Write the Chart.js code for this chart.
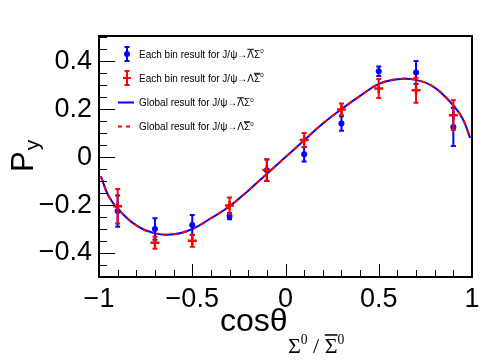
<!DOCTYPE html>
<html>
<head>
<meta charset="utf-8">
<script src="https://cdn.jsdelivr.net/npm/chart.js@4.4.1/dist/chart.umd.min.js"></script>
<style>
html,body{margin:0;padding:0;background:#fff;}
canvas{display:block;}
</style>
</head>
<body>
<canvas id="c" width="498" height="360"></canvas>
<script>
// ---- data ----
const binX = [-0.9, -0.7, -0.5, -0.3, -0.1, 0.1, 0.3, 0.5, 0.7, 0.9];
const lambdaBarY   = [-0.225, -0.300, -0.283, -0.246, -0.055, 0.012, 0.140, 0.358, 0.353, 0.126];
const lambdaBarErr = [0.065, 0.045, 0.042, 0.013, 0.045, 0.030, 0.030, 0.020, 0.048, 0.080];
const sigmaBarY    = [-0.205, -0.357, -0.349, -0.202, -0.054, 0.071, 0.199, 0.286, 0.279, 0.175];
const sigmaBarErr  = [0.072, 0.025, 0.025, 0.034, 0.045, 0.030, 0.025, 0.040, 0.052, 0.062];
const globalX = [-0.99, -0.95, -0.9, -0.8, -0.7, -0.6, -0.5, -0.4, -0.3, -0.2, -0.1, 0, 0.1, 0.2, 0.3, 0.4, 0.5, 0.6, 0.7, 0.8, 0.9, 0.95, 0.99];
const globalLambdaBarY = [-0.08, -0.16, -0.215, -0.285, -0.318, -0.322, -0.300, -0.255, -0.205, -0.140, -0.070, 0, 0.070, 0.140, 0.200, 0.255, 0.305, 0.325, 0.322, 0.290, 0.215, 0.160, 0.080];
const globalSigmaBarY  = [-0.08, -0.16, -0.215, -0.285, -0.318, -0.322, -0.300, -0.255, -0.205, -0.140, -0.070, 0, 0.070, 0.140, 0.200, 0.255, 0.305, 0.325, 0.322, 0.290, 0.215, 0.160, 0.080];
const xTicks = [-1, -0.5, 0, 0.5, 1];
const yTicks = [-0.4, -0.2, 0, 0.2, 0.4];
// text pieces: b = overline, s = superscript
const legendLabels = [
  [{t: "Each bin result for J/\u03C8\u2192"}, {t: "\u039B", b: 1}, {t: "\u03A3"}, {t: "0", s: 1}],
  [{t: "Each bin result for J/\u03C8\u2192"}, {t: "\u039B"}, {t: "\u03A3", b: 1}, {t: "0", s: 1}],
  [{t: "Global result for J/\u03C8\u2192"}, {t: "\u039B", b: 1}, {t: "\u03A3"}, {t: "0", s: 1}],
  [{t: "Global result for J/\u03C8\u2192"}, {t: "\u039B"}, {t: "\u03A3", b: 1}, {t: "0", s: 1}]
];
const xSubLabel = [{t: "\u03A3"}, {t: "0", s: 1}, {t: " / "}, {t: "\u03A3", b: 1}, {t: "0", s: 1}];

const BLUE = '#0000ff', RED = '#ff0000';
const pts = (xs, ys) => xs.map((x, i) => ({x: x, y: ys[i]}));
const fmt = v => (v < 0 ? '\u2212' : '') + String(Math.abs(v));

function richText(ctx, parts, x, y, size, family) {
  let cx = x;
  parts.forEach(p => {
    const sz = p.s ? size * 0.62 : size;
    ctx.font = sz + 'px ' + family;
    const dy = p.s ? -size * 0.42 : 0;
    ctx.fillText(p.t, cx, y + dy);
    const w = ctx.measureText(p.t).width;
    if (p.b) {
      ctx.save();
      ctx.lineWidth = Math.max(1, size * 0.07);
      ctx.strokeStyle = ctx.fillStyle;
      const oy = y - size * 0.82;
      ctx.beginPath(); ctx.moveTo(cx, oy); ctx.lineTo(cx + w, oy); ctx.stroke();
      ctx.restore();
    }
    cx += w;
  });
}

const decor = {
  id: 'decor',
  afterDatasetsDraw(chart) {
    const ctx = chart.ctx, xs = chart.scales.x, ys = chart.scales.y;
    ctx.save();
    const bars = (ysArr, errs, col) => {
      ctx.strokeStyle = col; ctx.lineWidth = 2;
      binX.forEach((x, i) => {
        const px = xs.getPixelForValue(x);
        const y1 = ys.getPixelForValue(ysArr[i] + errs[i]);
        const y2 = ys.getPixelForValue(ysArr[i] - errs[i]);
        ctx.beginPath();
        ctx.moveTo(px, y1); ctx.lineTo(px, y2);
        ctx.moveTo(px - 2.5, y1); ctx.lineTo(px + 2.5, y1);
        ctx.moveTo(px - 2.5, y2); ctx.lineTo(px + 2.5, y2);
        ctx.stroke();
      });
    };
    bars(lambdaBarY, lambdaBarErr, BLUE);
    bars(sigmaBarY, sigmaBarErr, RED);
    ctx.restore();
  },
  afterDraw(chart) {
    const ctx = chart.ctx, xs = chart.scales.x, ys = chart.scales.y, a = chart.chartArea;
    ctx.save();
    ctx.strokeStyle = '#000'; ctx.lineWidth = 2;
    ctx.strokeRect(a.left, a.top, a.right - a.left, a.bottom - a.top);
    ctx.lineWidth = 1;
    ctx.beginPath();
    for (let k = -10; k <= 10; k++) {
      const px = Math.round(xs.getPixelForValue(k / 10)) + 0.5;
      const len = (k % 5 === 0) ? 13 : 7;
      ctx.moveTo(px, a.bottom); ctx.lineTo(px, a.bottom - len);
    }
    for (let k = -10; k <= 10; k++) {
      const py = Math.round(ys.getPixelForValue(k * 0.05)) + 0.5;
      const len = (k % 4 === 0 && Math.abs(k) <= 8) ? 16 : 8;
      ctx.moveTo(a.left, py); ctx.lineTo(a.left + len, py);
    }
    ctx.stroke();
    // legend
    const SANS = '"Liberation Sans", Arial, sans-serif';
    ctx.textBaseline = 'alphabetic'; ctx.textAlign = 'left'; ctx.fillStyle = '#000';
    const lx = 127, rowY = [54, 78, 102.5, 126.5];
    legendLabels.forEach((parts, i) => richText(ctx, parts, 139, rowY[i] + 3.5, 10, SANS));
    ctx.lineWidth = 2; ctx.strokeStyle = BLUE; ctx.fillStyle = BLUE;
    ctx.beginPath();
    ctx.moveTo(lx, rowY[0] - 7); ctx.lineTo(lx, rowY[0] + 7);
    ctx.moveTo(lx - 2.5, rowY[0] - 7); ctx.lineTo(lx + 2.5, rowY[0] - 7);
    ctx.moveTo(lx - 2.5, rowY[0] + 7); ctx.lineTo(lx + 2.5, rowY[0] + 7);
    ctx.stroke();
    ctx.beginPath(); ctx.arc(lx, rowY[0], 3, 0, Math.PI * 2); ctx.fill();
    ctx.strokeStyle = RED;
    ctx.beginPath();
    ctx.moveTo(lx, rowY[1] - 7); ctx.lineTo(lx, rowY[1] + 7);
    ctx.moveTo(lx - 2.5, rowY[1] - 7); ctx.lineTo(lx + 2.5, rowY[1] - 7);
    ctx.moveTo(lx - 2.5, rowY[1] + 7); ctx.lineTo(lx + 2.5, rowY[1] + 7);
    ctx.moveTo(lx - 4, rowY[1]); ctx.lineTo(lx + 4, rowY[1]);
    ctx.stroke();
    ctx.strokeStyle = BLUE;
    ctx.beginPath(); ctx.moveTo(118, rowY[2]); ctx.lineTo(134, rowY[2]); ctx.stroke();
    ctx.strokeStyle = RED; ctx.setLineDash([4, 4]);
    ctx.beginPath(); ctx.moveTo(118, rowY[3]); ctx.lineTo(134, rowY[3]); ctx.stroke();
    ctx.setLineDash([]);
    // axis titles
    ctx.fillStyle = '#000';
    ctx.font = '32px ' + SANS;
    ctx.fillText('cos\u03B8', 220, 331);
    richText(ctx, xSubLabel, 288, 353, 22, '"Liberation Serif", "Times New Roman", serif');
    ctx.save();
    ctx.translate(33, 172);
    ctx.rotate(-Math.PI / 2);
    ctx.font = '31px ' + SANS;
    ctx.fillText('P', 0, 0);
    const w = ctx.measureText('P').width;
    ctx.font = '21px ' + SANS;
    ctx.fillText('y', w + 1, 6);
    ctx.restore();
    ctx.restore();
  }
};

const tickFont = { family: '"Liberation Sans", Arial, sans-serif', size: 27 };
new Chart(document.getElementById('c'), {
  type: 'scatter',
  data: {
    datasets: [
      { label: 'sigmaBar bins', data: pts(binX, sigmaBarY), pointStyle: 'cross', pointRadius: 4.5,
        borderColor: RED, backgroundColor: RED, borderWidth: 2.5, showLine: false },
      { label: 'lambdaBar bins', data: pts(binX, lambdaBarY), pointStyle: 'circle', pointRadius: 3,
        borderColor: BLUE, backgroundColor: BLUE, borderWidth: 0, showLine: false },
      { label: 'global sigmaBar', data: pts(globalX, globalSigmaBarY), showLine: true, pointRadius: 0,
        borderColor: RED, borderWidth: 2, borderDash: [5, 5], tension: 0.4, fill: false },
      { label: 'global lambdaBar', data: pts(globalX, globalLambdaBarY), showLine: true, pointRadius: 0,
        borderColor: BLUE, borderWidth: 2, tension: 0.4, fill: false }
    ]
  },
  options: {
    responsive: false, devicePixelRatio: 1, animation: false,
    layout: { padding: { left: 0, top: 36, right: 26, bottom: 0 } },
    plugins: { legend: { display: false }, tooltip: { enabled: false } },
    scales: {
      x: {
        type: 'linear', min: -1, max: 1,
        grid: { display: false, drawTicks: false }, border: { display: false },
        afterBuildTicks: s => { s.ticks = xTicks.map(v => ({ value: v })); },
        afterFit: s => { s.height = 83; },
        ticks: { color: '#000', padding: 6, maxRotation: 0, autoSkip: false, font: tickFont, callback: v => fmt(v) }
      },
      y: {
        type: 'linear', min: -0.5, max: 0.505,
        grid: { display: false, drawTicks: false }, border: { display: false },
        afterBuildTicks: s => { s.ticks = yTicks.map(v => ({ value: v })); },
        afterFit: s => { s.width = 99; },
        ticks: { color: '#000', padding: 7, autoSkip: false, font: tickFont, callback: v => fmt(v) }
      }
    }
  },
  plugins: [decor]
});
</script>
</body>
</html>
